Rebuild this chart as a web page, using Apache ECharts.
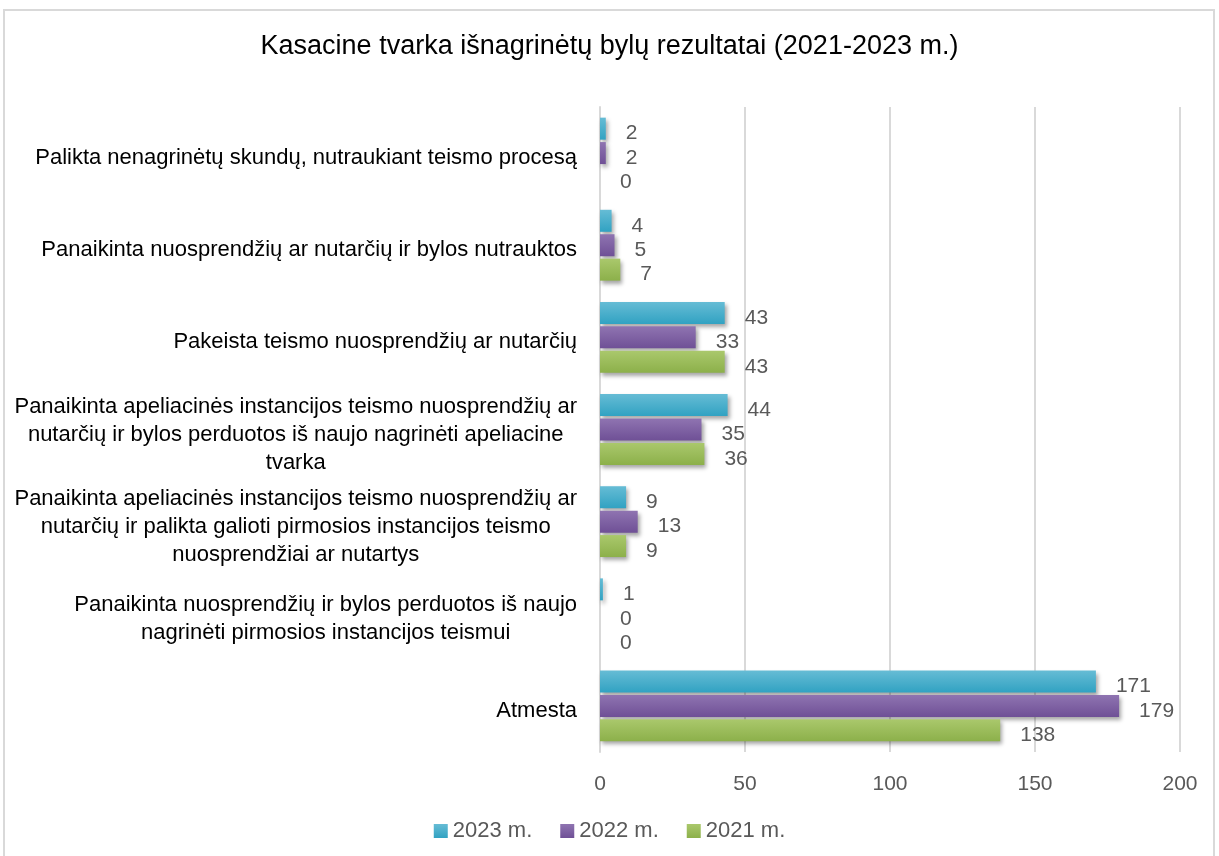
<!DOCTYPE html>
<html lang="lt">
<head>
    <meta charset="UTF-8">
    <title>Kasacine tvarka</title>
    <script src="https://cdn.jsdelivr.net/npm/echarts@6/dist/echarts.min.js"></script>
    <style type="text/css">
        * {
            margin: 0;
            padding: 0;
        }

        html, body {
            width: 100%;
            height: 100%;
            overflow: hidden;
            background: #fff;
        }

        #frame {
            position: absolute;
            left: 3px;
            top: 9px;
            width: 1208px;
            height: 900px;
            border: 2px solid #d9d9d9;
        }

        #main {
            position: absolute;
            left: 0;
            top: 0;
            width: 1219px;
            height: 856px;
        }
    </style>
</head>
<body>
<div id="frame"></div>
<div id="main"></div>

<script type="text/javascript">
    // kategorijos (iš viršaus į apačią)
    var categories = [
        'Palikta nenagrinėtų skundų, nutraukiant teismo procesą',
        'Panaikinta nuosprendžių ar nutarčių ir bylos nutrauktos',
        'Pakeista teismo nuosprendžių ar nutarčių',
        'Panaikinta apeliacinės instancijos teismo nuosprendžių ar\nnutarčių ir bylos perduotos iš naujo nagrinėti apeliacine\ntvarka',
        'Panaikinta apeliacinės instancijos teismo nuosprendžių ar\nnutarčių ir palikta galioti pirmosios instancijos teismo\nnuosprendžiai ar nutartys',
        'Panaikinta nuosprendžių ir bylos perduotos iš naujo\nnagrinėti pirmosios instancijos teismui',
        'Atmesta'
    ];
    var values2023 = [2, 4, 43, 44, 9, 1, 171];
    var values2022 = [2, 5, 33, 35, 13, 0, 179];
    var values2021 = [0, 7, 43, 36, 9, 0, 138];

    var font = 'Liberation Sans';

    function grad(top, bottom) {
        return new echarts.graphic.LinearGradient(0, 0, 0, 1, [
            {offset: 0, color: top},
            {offset: 1, color: bottom}
        ]);
    }

    function barSeries(name, data, top, bottom) {
        return {
            name: name,
            type: 'bar',
            data: data,
            barWidth: 22,
            barGap: '11%',
            itemStyle: {
                color: grad(top, bottom),
                shadowColor: 'rgba(0,0,0,0.35)',
                shadowBlur: 4,
                shadowOffsetX: 2,
                shadowOffsetY: 3
            },
            label: {
                show: true,
                position: 'right',
                distance: 20,
                offset: [0, 5],
                color: '#595959',
                fontFamily: font,
                fontSize: 21
            }
        };
    }

    var myChart = echarts.init(document.getElementById('main'));
    var option = {
        title: {
            text: 'Kasacine tvarka išnagrinėtų bylų rezultatai (2021-2023 m.)',
            left: 'center',
            top: 28,
            textStyle: {fontFamily: font, fontSize: 27, fontWeight: 'normal', color: '#000'}
        },
        legend: {
            bottom: 9,
            left: 'center',
            itemWidth: 14,
            itemHeight: 14,
            itemGap: 28,
            icon: 'rect',
            textStyle: {fontFamily: font, fontSize: 22, color: '#595959'},
            data: ['2023 m.', '2022 m.', '2021 m.']
        },
        grid: {left: 600, right: 39, top: 107, bottom: 104},
        xAxis: {
            type: 'value',
            min: 0,
            max: 200,
            interval: 50,
            axisLine: {show: false},
            axisTick: {show: false},
            splitLine: {lineStyle: {color: '#d9d9d9', width: 2}},
            axisLabel: {
                margin: 22,
                color: '#595959',
                fontFamily: font,
                fontSize: 21
            }
        },
        yAxis: {
            type: 'category',
            inverse: true,
            data: categories,
            axisTick: {show: false},
            axisLine: {lineStyle: {color: '#d9d9d9', width: 2}},
            axisLabel: {
                margin: 23,
                padding: [10, 0, 0, 0],
                formatter: function (v) {
                    return v.split('\n').map(function (s) { return '{c|' + s + '}'; }).join('\n');
                },
                rich: {
                    c: {align: 'center', fontFamily: font, fontSize: 22, color: '#000', lineHeight: 28}
                }
            }
        },
        series: [
            barSeries('2023 m.', values2023, '#66bcd5', '#31a2c2'),
            barSeries('2022 m.', values2022, '#8f74b1', '#6f5096'),
            barSeries('2021 m.', values2021, '#aac86c', '#8cb04a')
        ]
    };
    myChart.setOption(option);
</script>
</body>
</html>
